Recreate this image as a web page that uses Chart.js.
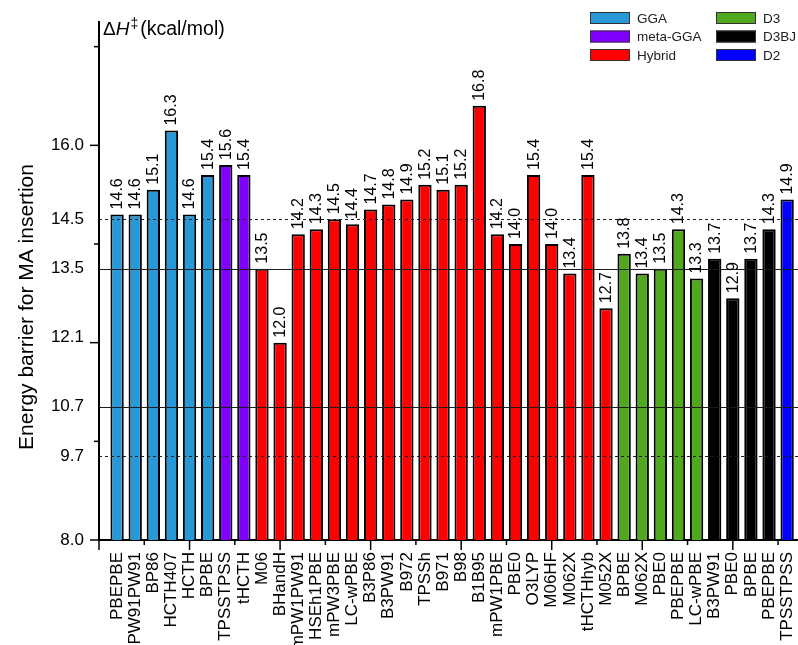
<!DOCTYPE html>
<html>
<head>
<meta charset="utf-8">
<title>Energy barrier for MA insertion</title>
<script src="https://cdn.jsdelivr.net/npm/chart.js@4.4.1/dist/chart.umd.min.js"></script>
<style>
  html, body { margin: 0; padding: 0; background: #fff; }
  #wrap { width: 798px; height: 645px; }
</style>
</head>
<body>
<div id="wrap"><canvas id="chart" width="798" height="645"></canvas></div>
<script>
// Functionals, in plotting order
const methods = [
  'PBEPBE', 'PW91PW91', 'BP86', 'HCTH407', 'HCTH', 'BPBE',
  'TPSSTPSS', 'tHCTH',
  'M06', 'BHandH', 'mPW1PW91', 'HSEh1PBE', 'mPW3PBE', 'LC-wPBE', 'B3P86', 'B3PW91',
  'B972', 'TPSSh', 'B971', 'B98', 'B1B95', 'mPW1PBE', 'PBE0', 'O3LYP', 'M06HF',
  'M062X', 'tHCTHhyb', 'M052X',
  'BPBE', 'M062X', 'PBE0', 'PBEPBE', 'LC-wPBE',
  'B3PW91', 'PBE0', 'BPBE', 'PBEPBE',
  'TPSSTPSS'
];

// Activation enthalpy (kcal/mol) for each functional
const barrier = [
  14.6, 14.6, 15.1, 16.3, 14.6, 15.4,
  15.6, 15.4,
  13.5, 12.0, 14.2, 14.3, 14.5, 14.4, 14.7, 14.8,
  14.9, 15.2, 15.1, 15.2, 16.8, 14.2, 14.0, 15.4, 14.0,
  13.4, 15.4, 12.7,
  13.8, 13.4, 13.5, 14.3, 13.3,
  13.7, 12.9, 13.7, 14.3,
  14.9
];

// Family index of each functional (into familyNames)
const family = [
  0, 0, 0, 0, 0, 0,
  1, 1,
  2, 2, 2, 2, 2, 2, 2, 2, 2, 2, 2, 2, 2, 2, 2, 2, 2, 2, 2, 2,
  3, 3, 3, 3, 3,
  4, 4, 4, 4,
  5
];
const familyNames = ['GGA', 'meta-GGA', 'Hybrid', 'D3', 'D3BJ', 'D2'];

// Axis annotations
const yLabelValues = [8.0, 9.7, 10.7, 12.1, 13.5, 14.5, 16.0];
const yTickMarks = [8, 10, 12, 14, 16, 18];
const xTickMarks = [0, 2.5, 5, 7.5, 10, 12.5, 15, 17.5, 20, 22.5, 25, 27.5, 30, 32.5, 35, 37.5];
const dashedRefs = [14.5, 9.7];
const solidRefs = [13.5, 10.7];

// Styling
const familyColors = ['#2898D6', '#8000FF', '#FF0000', '#50A81E', '#000000', '#0000FF'];
const FONT = '"Liberation Sans", Arial, Helvetica, sans-serif';

const datasets = familyNames.map((name, g) => ({
  label: name,
  backgroundColor: familyColors[g],
  data: methods
    .map((m, i) => ({ x: i + 1, y: barrier[i], g: family[i] }))
    .filter(p => p.g === g)
    .map(p => ({ x: p.x, y: p.y }))
}));

const decorations = {
  id: 'decorations',
  afterDatasetsDraw(chart) {
    const { ctx, chartArea, scales: { y } } = chart;
    ctx.save();
    // horizontal reference levels
    ctx.strokeStyle = '#1c1c1c';
    ctx.lineWidth = 1;
    const drawRef = (v, dash) => {
      const py = Math.round(y.getPixelForValue(v)) + 0.5;
      ctx.setLineDash(dash);
      ctx.beginPath();
      ctx.moveTo(chartArea.left, py);
      ctx.lineTo(chartArea.right, py);
      ctx.stroke();
    };
    dashedRefs.forEach(v => drawRef(v, [3, 3]));
    solidRefs.forEach(v => drawRef(v, []));
    ctx.setLineDash([]);

    // value labels above bars
    ctx.fillStyle = '#000';
    ctx.font = '16px ' + FONT;
    ctx.textAlign = 'left';
    ctx.textBaseline = 'middle';
    chart.data.datasets.forEach((ds, di) => {
      chart.getDatasetMeta(di).data.forEach((bar, j) => {
        ctx.save();
        ctx.translate(bar.x + 0.5, bar.y - 5);
        ctx.rotate(-Math.PI / 2);
        ctx.fillText(ds.data[j].y.toFixed(1), 0, 0);
        ctx.restore();
      });
    });
    ctx.restore();
  },
  afterDraw(chart) {
    const { ctx, chartArea, scales: { x, y } } = chart;
    ctx.save();
    ctx.strokeStyle = '#000';
    ctx.lineWidth = 1.5;
    // x tick marks
    xTickMarks.forEach(p => {
      const px = x.getPixelForValue(p);
      const len = p % 5 === 0 ? 10 : 5;
      ctx.beginPath();
      ctx.moveTo(px, chartArea.bottom);
      ctx.lineTo(px, chartArea.bottom + len);
      ctx.stroke();
    });
    // y tick marks
    yTickMarks.forEach(v => {
      const py = y.getPixelForValue(v);
      const len = v % 4 === 0 ? 9 : 5;
      ctx.beginPath();
      ctx.moveTo(chartArea.left - len, py);
      ctx.lineTo(chartArea.left, py);
      ctx.stroke();
    });

    // y-axis title
    ctx.fillStyle = '#000';
    ctx.save();
    ctx.translate(33, 307);
    ctx.rotate(-Math.PI / 2);
    ctx.font = '21px ' + FONT;
    ctx.textAlign = 'center';
    ctx.textBaseline = 'alphabetic';
    ctx.fillText('Energy barrier for MA insertion', 0, 0);
    ctx.restore();

    // unit label at the top of the y axis
    ctx.textAlign = 'left';
    ctx.textBaseline = 'alphabetic';
    let tx = 103;
    const base = 35;
    ctx.font = '19px ' + FONT;
    ctx.fillText('\u0394', tx, base);
    tx += ctx.measureText('\u0394').width;
    ctx.font = 'italic 19px ' + FONT;
    ctx.fillText('H', tx, base);
    tx += ctx.measureText('H').width + 1;
    ctx.font = '14px ' + FONT;
    ctx.fillText('\u2021', tx, base - 7);
    tx += ctx.measureText('\u2021').width + 2;
    ctx.font = '19.5px ' + FONT;
    ctx.fillText('(kcal/mol)', tx, base);

    // legend, two columns of three
    ctx.font = '13.5px ' + FONT;
    ctx.textBaseline = 'middle';
    chart.data.datasets.forEach((ds, i) => {
      const col = Math.floor(i / 3), row = i % 3;
      const bx = 590 + col * 126;
      const cy = 18 + row * 18.5;
      ctx.fillStyle = ds.backgroundColor;
      ctx.fillRect(bx, cy - 6, 40, 12);
      ctx.strokeStyle = '#333';
      ctx.lineWidth = 1;
      ctx.strokeRect(bx + 0.5, cy - 6 + 0.5, 39, 11);
      ctx.fillStyle = '#222';
      ctx.fillText(ds.label, bx + 47, cy + 1);
    });
    ctx.restore();
  }
};

new Chart(document.getElementById('chart'), {
  type: 'bar',
  data: { datasets },
  plugins: [decorations],
  options: {
    responsive: false,
    animation: false,
    devicePixelRatio: 1,
    layout: { padding: { top: 22, right: 0, bottom: 0, left: 0 } },
    plugins: { legend: { display: false }, tooltip: { enabled: false } },
    datasets: {
      bar: {
        grouped: false,
        barPercentage: 0.92,
        categoryPercentage: 0.8,
        borderColor: '#000',
        borderWidth: 2
      }
    },
    scales: {
      x: {
        type: 'linear',
        offset: false,
        min: 0,
        max: 38.6,
        grid: { display: false, drawTicks: false, offset: false },
        border: { display: true, color: '#000', width: 2 },
        afterBuildTicks: s => { s.ticks = methods.map((m, i) => ({ value: i + 1 })); },
        ticks: {
          autoSkip: false,
          minRotation: 90,
          maxRotation: 90,
          padding: 12,
          color: '#000',
          font: { family: FONT, size: 17 },
          callback: v => methods[Math.round(v) - 1] || ''
        },
        afterFit: s => { s.height = 105; s.paddingLeft = 0; s.paddingRight = 0; }
      },
      y: {
        type: 'linear',
        min: 8,
        max: 18.5,
        grid: { display: false, drawTicks: false },
        border: { display: true, color: '#000', width: 2 },
        afterBuildTicks: s => { s.ticks = yLabelValues.map(v => ({ value: v })); },
        ticks: {
          padding: 15,
          color: '#000',
          font: { family: FONT, size: 17 },
          callback: v => Number(v).toFixed(1)
        },
        afterFit: s => { s.width = 99; s.paddingTop = 0; s.paddingBottom = 0; }
      }
    }
  }
});
</script>
</body>
</html>
